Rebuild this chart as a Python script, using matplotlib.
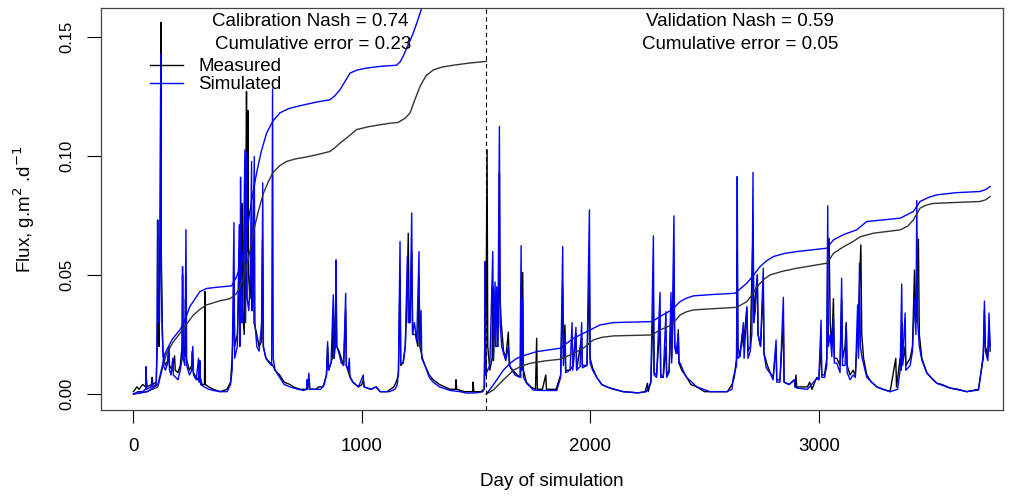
import numpy as np
import matplotlib
matplotlib.use('Agg')
import matplotlib.pyplot as plt

plt.rcParams['font.family'] = ['Liberation Sans', 'DejaVu Sans']

# daily flux, measured (day, value)
meas_day = [0, 15, 25, 40, 55, 57, 60, 80, 82, 85, 100, 104, 106, 108, 112, 118, 120, 122, 126, 130,
            140, 150, 155, 158, 170, 180, 183, 195, 205, 213, 215, 218, 225, 228, 231, 245, 255, 258, 262, 280,
            290, 300, 311, 313, 315, 330, 350, 380, 410, 425, 432, 438, 440, 443, 455, 460, 463, 466, 472, 475,
            478, 485, 490, 493, 495, 498, 501, 504, 510, 515, 518, 525, 528, 540, 550, 560, 565, 568, 580, 590,
            600, 610, 620, 640, 660, 685, 700, 730, 760, 770, 772, 800, 810, 830, 845, 850, 855, 870, 875, 878,
            887, 890, 900, 910, 920, 929, 932, 945, 960, 985, 1000, 1006, 1010, 1040, 1062, 1080, 1110, 1140, 1150, 1160,
            1167, 1170, 1180, 1190, 1199, 1203, 1207, 1211, 1218, 1222, 1235, 1245, 1250, 1254, 1265, 1276, 1295, 1312, 1340, 1386,
            1410, 1412, 1415, 1450, 1485, 1487, 1490, 1520, 1535, 1539, 1542, 1548, 1551, 1560, 1570, 1573, 1576, 1583, 1586, 1595,
            1600, 1602, 1605, 1610, 1620, 1630, 1641, 1645, 1660, 1680, 1695, 1697, 1700, 1704, 1707, 1720, 1740, 1760, 1765, 1768,
            1790, 1805, 1808, 1850, 1870, 1879, 1882, 1889, 1892, 1910, 1925, 1937, 1940, 1962, 1965, 1985, 1996, 1999, 2010, 2028,
            2050, 2072, 2100, 2144, 2209, 2240, 2250, 2253, 2265, 2276, 2279, 2290, 2305, 2308, 2319, 2331, 2334, 2345, 2353, 2356,
            2366, 2370, 2380, 2385, 2388, 2400, 2422, 2440, 2466, 2500, 2560, 2600, 2620, 2630, 2640, 2643, 2646, 2655, 2665, 2670,
            2685, 2690, 2700, 2712, 2716, 2722, 2731, 2734, 2745, 2757, 2760, 2775, 2787, 2800, 2813, 2816, 2830, 2845, 2848, 2870,
            2893, 2896, 2900, 2903, 2930, 2950, 2960, 2970, 2991, 3000, 3010, 3013, 3025, 3035, 3039, 3045, 3050, 3057, 3064, 3068,
            3079, 3093, 3100, 3104, 3115, 3120, 3124, 3137, 3150, 3160, 3170, 3178, 3184, 3188, 3196, 3210, 3230, 3254, 3280, 3312,
            3337, 3340, 3356, 3360, 3363, 3366, 3378, 3381, 3400, 3410, 3419, 3425, 3436, 3440, 3451, 3473, 3490, 3500, 3517, 3540,
            3575, 3610, 3648, 3699, 3714, 3720, 3725, 3729, 3740, 3745, 3750]
meas_val = [0.001, 0.003, 0.002, 0.004, 0.003, 0.006, 0.003, 0.004, 0.007, 0.004, 0.005, 0.02, 0.073, 0.03, 0.02, 0.08, 0.156, 0.06, 0.03, 0.016,
            0.012, 0.014, 0.02, 0.012, 0.01, 0.016, 0.01, 0.009, 0.012, 0.02, 0.05, 0.02, 0.016, 0.04, 0.015, 0.01, 0.012, 0.018, 0.009, 0.006,
            0.008, 0.004, 0.004, 0.043, 0.004, 0.003, 0.002, 0.001, 0.002, 0.005, 0.015, 0.03, 0.05, 0.02, 0.025, 0.04, 0.06, 0.03, 0.05, 0.08,
            0.035, 0.025, 0.07, 0.1, 0.127, 0.06, 0.119, 0.05, 0.04, 0.06, 0.035, 0.065, 0.03, 0.025, 0.02, 0.022, 0.065, 0.02, 0.015, 0.014,
            0.013, 0.012, 0.01, 0.008, 0.005, 0.004, 0.003, 0.002, 0.002, 0.006, 0.002, 0.002, 0.003, 0.003, 0.008, 0.02, 0.01, 0.015, 0.035, 0.015,
            0.045, 0.02, 0.018, 0.015, 0.012, 0.035, 0.012, 0.008, 0.005, 0.003, 0.004, 0.006, 0.003, 0.002, 0.003, 0.001, 0.001, 0.003, 0.005, 0.008,
            0.05, 0.012, 0.013, 0.02, 0.045, 0.0675, 0.03, 0.03, 0.06, 0.025, 0.025, 0.02, 0.05, 0.02, 0.015, 0.012, 0.008, 0.006, 0.004, 0.002,
            0.002, 0.006, 0.002, 0.001, 0.001, 0.005, 0.001, 0.001, 0.002, 0.03, 0.008, 0.1025, 0.02, 0.01, 0.015, 0.045, 0.014, 0.04, 0.02, 0.02,
            0.05, 0.0928, 0.04, 0.03, 0.018, 0.015, 0.026, 0.012, 0.01, 0.008, 0.007, 0.045, 0.012, 0.051, 0.01, 0.005, 0.003, 0.002, 0.0234, 0.002,
            0.002, 0.008, 0.002, 0.002, 0.008, 0.045, 0.015, 0.029, 0.01, 0.01, 0.012, 0.0255, 0.01, 0.024, 0.012, 0.012, 0.05, 0.015, 0.011, 0.007,
            0.004, 0.003, 0.002, 0.001, 0.0005, 0.001, 0.0045, 0.001, 0.005, 0.04, 0.009, 0.008, 0.03, 0.008, 0.007, 0.02, 0.008, 0.01, 0.035, 0.015,
            0.045, 0.02, 0.017, 0.027, 0.013, 0.01, 0.007, 0.004, 0.003, 0.001, 0.001, 0.001, 0.004, 0.007, 0.015, 0.06, 0.02, 0.016, 0.025, 0.02,
            0.036, 0.018, 0.02, 0.07, 0.03, 0.04, 0.05, 0.025, 0.02, 0.045, 0.017, 0.012, 0.009, 0.007, 0.02, 0.006, 0.006, 0.03, 0.005, 0.004,
            0.006, 0.003, 0.008, 0.003, 0.003, 0.003, 0.005, 0.002, 0.007, 0.006, 0.02, 0.008, 0.008, 0.015, 0.06, 0.0654, 0.03, 0.02, 0.04, 0.015,
            0.015, 0.012, 0.04, 0.015, 0.02, 0.03, 0.012, 0.008, 0.01, 0.008, 0.025, 0.045, 0.0626, 0.025, 0.015, 0.008, 0.005, 0.003, 0.002, 0.001,
            0.015, 0.003, 0.015, 0.01, 0.03, 0.012, 0.02, 0.012, 0.015, 0.02, 0.052, 0.03, 0.065, 0.025, 0.015, 0.009, 0.007, 0.006, 0.0045, 0.004,
            0.0025, 0.002, 0.001, 0.002, 0.012, 0.015, 0.035, 0.02, 0.016, 0.03, 0.018]

# daily flux, simulated
sim_day = [0, 20, 40, 53, 55, 57, 78, 80, 82, 100, 104, 106, 108, 114, 118, 120, 122, 126, 132, 140,
           150, 155, 158, 165, 172, 175, 185, 195, 205, 213, 215, 218, 225, 230, 233, 245, 255, 260, 263, 275,
           285, 288, 291, 294, 310, 330, 350, 380, 410, 425, 432, 440, 443, 455, 463, 466, 469, 472, 478, 488,
           491, 495, 498, 505, 512, 517, 520, 529, 532, 540, 550, 562, 566, 569, 580, 595, 605, 609, 612, 620,
           640, 660, 685, 720, 745, 758, 760, 762, 768, 771, 790, 820, 835, 845, 850, 853, 865, 875, 878, 884,
           887, 890, 900, 910, 920, 929, 932, 940, 945, 948, 961, 985, 1006, 1009, 1040, 1062, 1080, 1120, 1145, 1155,
           1160, 1167, 1170, 1181, 1190, 1199, 1203, 1211, 1218, 1222, 1230, 1240, 1250, 1253, 1259, 1262, 1276, 1295, 1312, 1340,
           1386, 1430, 1460, 1500, 1530, 1537, 1539, 1542, 1550, 1560, 1573, 1576, 1583, 1586, 1590, 1595, 1602, 1605, 1612, 1620,
           1630, 1641, 1648, 1670, 1692, 1697, 1700, 1704, 1707, 1721, 1750, 1790, 1853, 1870, 1879, 1882, 1889, 1892, 1911, 1920,
           1923, 1937, 1940, 1955, 1962, 1965, 1985, 1996, 1999, 2010, 2028, 2050, 2072, 2144, 2209, 2245, 2265, 2276, 2279, 2290,
           2305, 2308, 2319, 2331, 2334, 2345, 2353, 2356, 2366, 2369, 2375, 2385, 2388, 2393, 2410, 2422, 2466, 2524, 2597, 2620,
           2626, 2640, 2643, 2646, 2655, 2670, 2673, 2685, 2690, 2700, 2707, 2712, 2715, 2722, 2731, 2734, 2745, 2757, 2760, 2770,
           2787, 2800, 2813, 2816, 2830, 2845, 2848, 2870, 2893, 2896, 2904, 2950, 2991, 3000, 3010, 3013, 3025, 3035, 3039, 3042,
           3050, 3057, 3064, 3068, 3079, 3093, 3100, 3104, 3115, 3120, 3124, 3137, 3150, 3160, 3170, 3174, 3178, 3182, 3190, 3210,
           3254, 3312, 3345, 3356, 3363, 3366, 3378, 3381, 3400, 3410, 3419, 3425, 3429, 3433, 3440, 3451, 3473, 3517, 3575, 3648,
           3699, 3714, 3720, 3725, 3729, 3740, 3745, 3750]
sim_val = [0.0, 0.001, 0.001, 0.002, 0.0115, 0.002, 0.003, 0.006, 0.003, 0.004, 0.03, 0.073, 0.03, 0.03, 0.1, 0.143, 0.05, 0.025, 0.012, 0.01,
           0.013, 0.02, 0.01, 0.008, 0.015, 0.008, 0.007, 0.006, 0.01, 0.015, 0.0535, 0.015, 0.012, 0.069, 0.012, 0.008, 0.01, 0.02, 0.008, 0.006,
           0.015, 0.005, 0.014, 0.004, 0.003, 0.002, 0.0015, 0.001, 0.001, 0.004, 0.01, 0.072, 0.015, 0.02, 0.071, 0.02, 0.091, 0.03, 0.03, 0.1025,
           0.03, 0.101, 0.04, 0.035, 0.05, 0.0976, 0.035, 0.0997, 0.03, 0.02, 0.018, 0.03, 0.0886, 0.02, 0.015, 0.013, 0.012, 0.128, 0.015, 0.01,
           0.007, 0.004, 0.003, 0.002, 0.0015, 0.002, 0.006, 0.002, 0.0088, 0.002, 0.002, 0.002, 0.004, 0.008, 0.022, 0.01, 0.013, 0.0416, 0.015, 0.02,
           0.0563, 0.02, 0.017, 0.013, 0.012, 0.0423, 0.012, 0.01, 0.015, 0.007, 0.005, 0.003, 0.008, 0.003, 0.002, 0.003, 0.001, 0.001, 0.002, 0.004,
           0.01, 0.064, 0.013, 0.013, 0.02, 0.0577, 0.03, 0.03, 0.076, 0.025, 0.03, 0.022, 0.0598, 0.02, 0.035, 0.015, 0.012, 0.007, 0.005, 0.003,
           0.0015, 0.001, 0.0004, 0.0005, 0.001, 0.003, 0.0556, 0.008, 0.01, 0.012, 0.0598, 0.015, 0.047, 0.02, 0.045, 0.02, 0.1123, 0.03, 0.02, 0.017,
           0.014, 0.02, 0.0115, 0.008, 0.007, 0.0623, 0.01, 0.04, 0.007, 0.0045, 0.0017, 0.0015, 0.0015, 0.007, 0.0619, 0.012, 0.025, 0.009, 0.01, 0.03,
           0.01, 0.028, 0.01, 0.0115, 0.03, 0.011, 0.012, 0.0773, 0.013, 0.01, 0.007, 0.004, 0.003, 0.001, 0.0005, 0.001, 0.005, 0.0664, 0.008, 0.007,
           0.0426, 0.007, 0.007, 0.0346, 0.007, 0.009, 0.0426, 0.013, 0.0748, 0.02, 0.017, 0.025, 0.013, 0.013, 0.009, 0.007, 0.003, 0.001, 0.001, 0.002,
           0.007, 0.012, 0.0913, 0.015, 0.0157, 0.03, 0.015, 0.0367, 0.015, 0.018, 0.0255, 0.093, 0.03, 0.035, 0.05, 0.025, 0.02, 0.0528, 0.017, 0.011,
           0.0087, 0.006, 0.0227, 0.005, 0.005, 0.0406, 0.005, 0.004, 0.0059, 0.003, 0.0025, 0.002, 0.0065, 0.006, 0.031, 0.007, 0.007, 0.012, 0.079, 0.02,
           0.025, 0.0157, 0.0325, 0.013, 0.013, 0.009, 0.0486, 0.012, 0.012, 0.029, 0.009, 0.006, 0.008, 0.007, 0.0374, 0.015, 0.0549, 0.02, 0.015, 0.007,
           0.003, 0.001, 0.002, 0.01, 0.0462, 0.012, 0.034, 0.01, 0.012, 0.018, 0.04, 0.025, 0.0812, 0.03, 0.02, 0.0143, 0.0087, 0.0045, 0.0025, 0.001,
           0.0017, 0.0115, 0.017, 0.039, 0.018, 0.014, 0.034, 0.02]

# cumulative curves (scaled), calibration period
cal_cum_day = [0, 60, 107, 125, 145, 175, 204, 230, 261, 290, 320, 380, 422, 450, 466, 480, 495, 510, 524, 545,
               568, 590, 611, 640, 670, 710, 758, 810, 860, 880, 904, 940, 977, 1030, 1079, 1120, 1159, 1190, 1211, 1232,
               1254, 1280, 1312, 1350, 1400, 1470, 1545]
cal_cum_meas = [0.0, 0.001, 0.003, 0.010, 0.017, 0.022, 0.0255, 0.029, 0.033, 0.0355, 0.0374, 0.0392, 0.040, 0.042, 0.045, 0.049,
                0.0535, 0.060, 0.0675, 0.076, 0.084, 0.089, 0.093, 0.0958, 0.0976, 0.0987, 0.0995, 0.1006, 0.1018, 0.1032, 0.1053, 0.108,
                0.111, 0.1122, 0.113, 0.1136, 0.114, 0.1158, 0.118, 0.1235, 0.129, 0.1335, 0.136, 0.1372, 0.138, 0.1389, 0.1396]
cal_cum_sim_day = [0, 60, 107, 122, 138, 170, 204, 225, 247, 270, 291, 320, 364, 430, 452, 475, 495, 517, 539, 560,
                   583, 610, 641, 680, 729, 800, 860, 880, 904, 925, 948, 980, 1021, 1080, 1152, 1168, 1181, 1200, 1225, 1245,
                   1262, 1300, 1400, 1545]
cal_cum_sim = [0.0, 0.001, 0.004, 0.010, 0.017, 0.023, 0.027, 0.031, 0.0367, 0.040, 0.043, 0.0443, 0.0448, 0.0454, 0.0493, 0.056,
               0.0675, 0.081, 0.0927, 0.102, 0.1095, 0.1145, 0.118, 0.1198, 0.121, 0.1225, 0.1235, 0.125, 0.1277, 0.131, 0.1347, 0.136,
               0.1368, 0.1375, 0.138, 0.1395, 0.1418, 0.146, 0.1515, 0.157, 0.162, 0.1665, 0.169, 0.1715]

# cumulative curves, validation period
val_cum_day = [1545, 1575, 1619, 1663, 1700, 1736, 1800, 1867, 1911, 1969, 2013, 2050, 2101, 2269, 2305, 2356, 2393, 2420, 2451, 2550,
               2641, 2685, 2710, 2729, 2760, 2787, 2840, 2904, 3035, 3064, 3095, 3123, 3150, 3181, 3239, 3356, 3390, 3414, 3443, 3470,
               3502, 3600, 3706, 3730, 3750]
val_cum_meas = [0.0, 0.0017, 0.0059, 0.010, 0.0118, 0.0129, 0.0139, 0.0146, 0.0164, 0.0192, 0.0227, 0.0238, 0.0244, 0.0248, 0.0269,
                0.029, 0.0332, 0.0345, 0.0353, 0.0359, 0.0364, 0.0388, 0.042, 0.045, 0.0482, 0.050, 0.0515, 0.0528, 0.0549, 0.059, 0.061,
                0.0626, 0.064, 0.066, 0.0675, 0.0689, 0.0705, 0.0731, 0.078, 0.0793, 0.080, 0.0804, 0.0808, 0.0815, 0.0829]
val_cum_sim_day = [1545, 1575, 1619, 1650, 1678, 1720, 1765, 1867, 1926, 1999, 2042, 2101, 2269, 2305, 2356, 2393, 2420, 2451, 2540, 2633,
                   2685, 2715, 2743, 2770, 2801, 2850, 2904, 3035, 3064, 3110, 3166, 3210, 3356, 3414, 3443, 3480, 3517, 3600, 3706, 3730,
                   3750]
val_cum_sim = [0.0, 0.0038, 0.010, 0.013, 0.015, 0.0165, 0.0178, 0.0192, 0.0234, 0.0269, 0.029, 0.030, 0.0304, 0.0325, 0.0353, 0.0388,
               0.0402, 0.0412, 0.0418, 0.0423, 0.0465, 0.050, 0.0535, 0.0558, 0.0577, 0.059, 0.0598, 0.0612, 0.0647, 0.067, 0.0689, 0.0724,
               0.0738, 0.0766, 0.0808, 0.0825, 0.0836, 0.0845, 0.085, 0.0858, 0.0871]

split_day = 1545
cal_text = ['Calibration Nash = 0.74', 'Cumulative error = 0.23']
val_text = ['Validation Nash = 0.59', 'Cumulative error = 0.05']

fig = plt.figure(figsize=(10.18, 5.01), dpi=100)
ax = fig.add_axes([0.0992, 0.1816, 0.886, 0.8024])

ax.plot(meas_day, meas_val, color='black', lw=1.0, label='Measured')
ax.plot(sim_day, sim_val, color='blue', lw=1.0, label='Simulated')
ax.plot(cal_cum_day, cal_cum_meas, color='#333333', lw=1.0)
ax.plot(cal_cum_sim_day, cal_cum_sim, color='blue', lw=1.0)
ax.plot(val_cum_day, val_cum_meas, color='#333333', lw=1.0)
ax.plot(val_cum_sim_day, val_cum_sim, color='blue', lw=1.0)
ax.axvline(split_day, color='black', lw=0.8, ls=(0, (4, 3)))

ax.set_xlim(-142, 3806)
ax.set_ylim(-0.0067, 0.162)
ax.set_xticks([0, 1000, 2000, 3000])
ax.set_yticks([0.0, 0.05, 0.10, 0.15])
ax.set_yticklabels(['0.00', '0.05', '0.10', '0.15'], rotation=90, va='center')
ax.tick_params(axis='x', length=9, width=0.8, labelsize=13.5, pad=11)
ax.tick_params(axis='y', length=10, width=0.8, labelsize=12, pad=9)
for s in ax.spines.values():
    s.set_color('#444444')
    s.set_linewidth(0.9)

ax.set_xlabel('Day of simulation', fontsize=13.5, labelpad=13)
ax.set_ylabel('Flux, g.m$^{2}$ .d$^{-1}$', fontsize=13.5, labelpad=16)

ax.text(773, 0.1563, cal_text[0], ha='center', va='center', fontsize=13.5)
ax.text(785, 0.1466, cal_text[1], ha='center', va='center', fontsize=13.5)
ax.text(2655, 0.1563, val_text[0], ha='center', va='center', fontsize=13.5)
ax.text(2655, 0.1466, val_text[1], ha='center', va='center', fontsize=13.5)

ax.legend(loc='upper left', bbox_to_anchor=(0.054, 0.875), frameon=False, fontsize=13.5,
          handlelength=1.75, handletextpad=0.85, labelspacing=0.05, borderpad=0, borderaxespad=0)

fig.savefig('out.png', dpi=100)
